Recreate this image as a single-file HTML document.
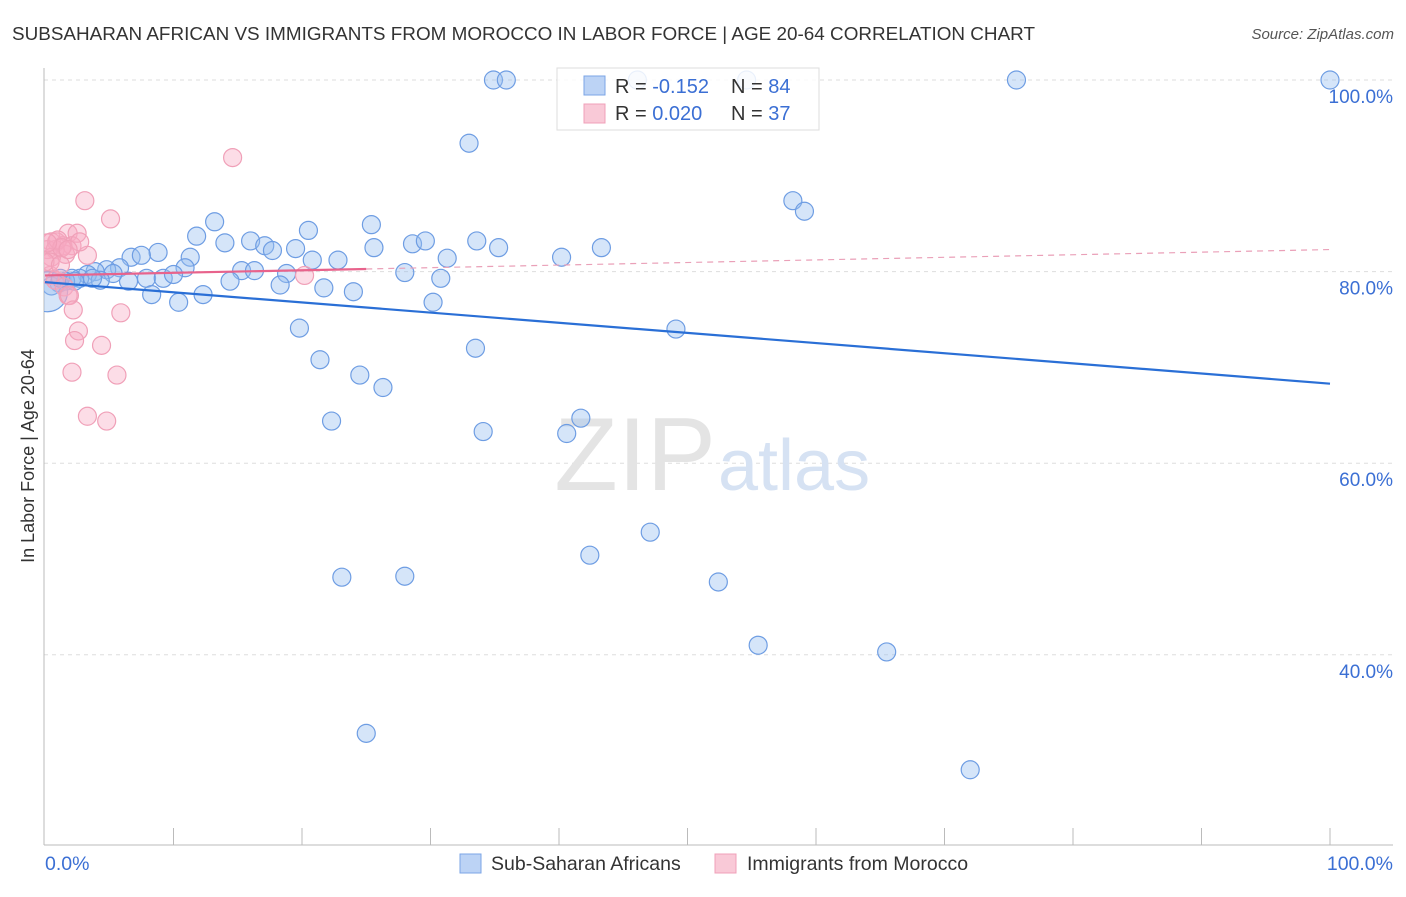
<!DOCTYPE html>
<html><head><meta charset="utf-8"><style>
body{margin:0;background:#fff;font-family:"Liberation Sans",sans-serif}
svg text{font-family:"Liberation Sans",sans-serif}
</style></head><body>
<svg id="chart" width="1406" height="892">
<defs><clipPath id="plotclip"><rect x="44" y="60" width="1360" height="785"/></clipPath></defs>
<text x="12" y="40" font-size="18" fill="#333" textLength="1023" lengthAdjust="spacingAndGlyphs">SUBSAHARAN AFRICAN VS IMMIGRANTS FROM MOROCCO IN LABOR FORCE | AGE 20-64 CORRELATION CHART</text>
<text x="1394" y="39" font-size="15" fill="#555" text-anchor="end" font-style="italic">Source: ZipAtlas.com</text>
<g id="grid"></g>
<text x="716" y="490" font-size="104" fill="#e4e4e4" text-anchor="end" font-family="Liberation Serif">ZIP</text>
<text x="718" y="490" font-size="72" fill="#d6e2f3">atlas</text>
<line x1="44" y1="68" x2="44" y2="845" stroke="#bbb"/>
<line x1="44" y1="845" x2="1393" y2="845" stroke="#bbb"/>
<g id="ticks"></g>
<g id="ylabels"></g>
<text x="45" y="870" font-size="19.5" fill="#3b6fd4">0.0%</text>
<text x="1393" y="870" font-size="19.5" fill="#3b6fd4" text-anchor="end">100.0%</text>
<text transform="translate(34,456) rotate(-90)" font-size="18" fill="#333" text-anchor="middle">In Labor Force | Age 20-64</text>
<g id="pts" clip-path="url(#plotclip)"></g>
<g id="trends"></g>
<g>
<rect x="557" y="68" width="262" height="62" fill="rgba(255,255,255,0.85)" stroke="#ddd"/>
<rect x="584" y="76" width="21" height="19" fill="#bcd3f5" stroke="#7ba4e6"/>
<rect x="584" y="104" width="21" height="19" fill="#f9c9d7" stroke="#f0a0b8"/>
<text x="615" y="93" font-size="20" fill="#333">R = <tspan fill="#3b6fd4">-0.152</tspan></text>
<text x="731" y="93" font-size="20" fill="#333">N = <tspan fill="#3b6fd4">84</tspan></text>
<text x="615" y="120" font-size="20" fill="#333">R = <tspan fill="#3b6fd4"> 0.020</tspan></text>
<text x="731" y="120" font-size="20" fill="#333">N = <tspan fill="#3b6fd4"> 37</tspan></text>
</g>
<g>
<rect x="460" y="854" width="21" height="19" fill="#bcd3f5" stroke="#7ba4e6"/>
<text x="491" y="870" font-size="19.5" fill="#333">Sub-Saharan Africans</text>
<rect x="715" y="854" width="21" height="19" fill="#f9c9d7" stroke="#f0a0b8"/>
<text x="747" y="870" font-size="19.5" fill="#333">Immigrants from Morocco</text>
</g>
</svg>
<script>
const yTicks=[100,80,60,40];
function charPx(p){return Math.round((p-45)/12.85*10)/10;}
const blueX=[493,506,637,746,1016,1330,469,793,804,215,372,309,197,225,250,265,273,296,374,412,426,477,498,562,602,158,190,131,142,312,338,447,185,241,255,286,405,120,107,95,88,80,72,65,59,52,48,128,146,163,173,230,280,324,354,441,152,178,203,433,299,676,475,320,360,383,332,483,567,581,650,590,342,405,718,758,887,366,970,113,100,60,75,92].map(charPx);
const blueY=[100,100,100,100,100,100,93.4,87.4,86.3,85.2,84.9,84.3,83.7,83.0,83.2,82.7,82.2,82.4,82.5,82.9,83.2,83.2,82.5,81.5,82.5,82.0,81.5,81.5,81.7,81.2,81.2,81.4,80.4,80.1,80.1,79.8,79.9,80.4,80.2,80.0,79.7,79.3,79.3,79.0,78.8,78.5,77.9,79.0,79.3,79.3,79.7,79.0,78.6,78.3,77.9,79.3,77.6,76.8,77.6,76.8,74.1,74.0,72.0,70.8,69.2,67.9,64.4,63.3,63.1,64.7,52.8,50.4,48.1,48.2,47.6,41.0,40.3,31.8,28.0,79.8,79.1,79.3,79.0,79.3];
const blueR=blueX.map((x,i)=>i===46?20:9);
const pinkX=[232,85,111,68,77,52,57,63,72,48,55,66,88,52,58,62,50,55,64,68,70,73,78,74,121,101,72,117,88,107,304,50,45,60,48,80,68].map(charPx);
const pinkY=[91.9,87.4,85.5,84.0,84.0,83.1,83.1,82.7,82.7,82.3,82.3,81.8,81.7,81.5,83.3,82.5,79.6,79.1,78.4,77.5,77.5,76.0,73.8,72.8,75.7,72.3,69.5,69.2,64.9,64.4,79.6,81.0,81.0,80.7,83.0,83.1,82.3];
const blueTrend=[0,78.9,100,68.3];
const pinkTrend=[0,79.6,100,82.3];
const X=v=>45+v*12.85, Y=v=>80+(100-v)*9.58;
const NS="http://www.w3.org/2000/svg";
function mk(t,a,p){const e=document.createElementNS(NS,t);for(const k in a)e.setAttribute(k,a[k]);document.getElementById(p).appendChild(e);return e;}
yTicks.forEach(t=>{
const l=mk('line',{x1:44,x2:1393,y1:Y(t),y2:Y(t),stroke:'#ddd','stroke-dasharray':'4,4'},'grid');


const tx=mk('text',{x:1393,y:Y(t)+23,'font-size':19,fill:'#3b6fd4','text-anchor':'end'},'ylabels');
tx.textContent=t.toFixed(1)+'%';


});
for(let i=1;i<=10;i++){const l=mk('line',{x1:X(i*10),x2:X(i*10),y1:828,y2:845,stroke:'#bbb'},'ticks');

}
blueX.forEach((x,i)=>{const c=mk('circle',{cx:X(x),cy:Y(blueY[i]),r:blueR[i],fill:'rgba(150,190,240,0.4)',stroke:'#6e9de3','stroke-width':1.2},'pts');

});
pinkX.forEach((x,i)=>{const c=mk('circle',{cx:X(x),cy:Y(pinkY[i]),r:9,fill:'rgba(247,170,195,0.4)',stroke:'#f0a0b8','stroke-width':1.2},'pts');

});
let b=mk('line',{x1:X(blueTrend[0]),y1:Y(blueTrend[1]),x2:X(blueTrend[2]),y2:Y(blueTrend[3]),stroke:'#2a6fd6','stroke-width':2.2},'trends');


const pAt=x=>pinkTrend[1]+(pinkTrend[3]-pinkTrend[1])*x/100;
let p1=mk('line',{x1:X(0),y1:Y(pAt(0)),x2:X(25),y2:Y(pAt(25)),stroke:'#e8638c','stroke-width':2.2},'trends');


let p2=mk('line',{x1:X(25),y1:Y(pAt(25)),x2:X(100),y2:Y(pAt(100)),stroke:'#eaa0b8','stroke-width':1.2,'stroke-dasharray':'6,5'},'trends');


</script>
</body></html>
